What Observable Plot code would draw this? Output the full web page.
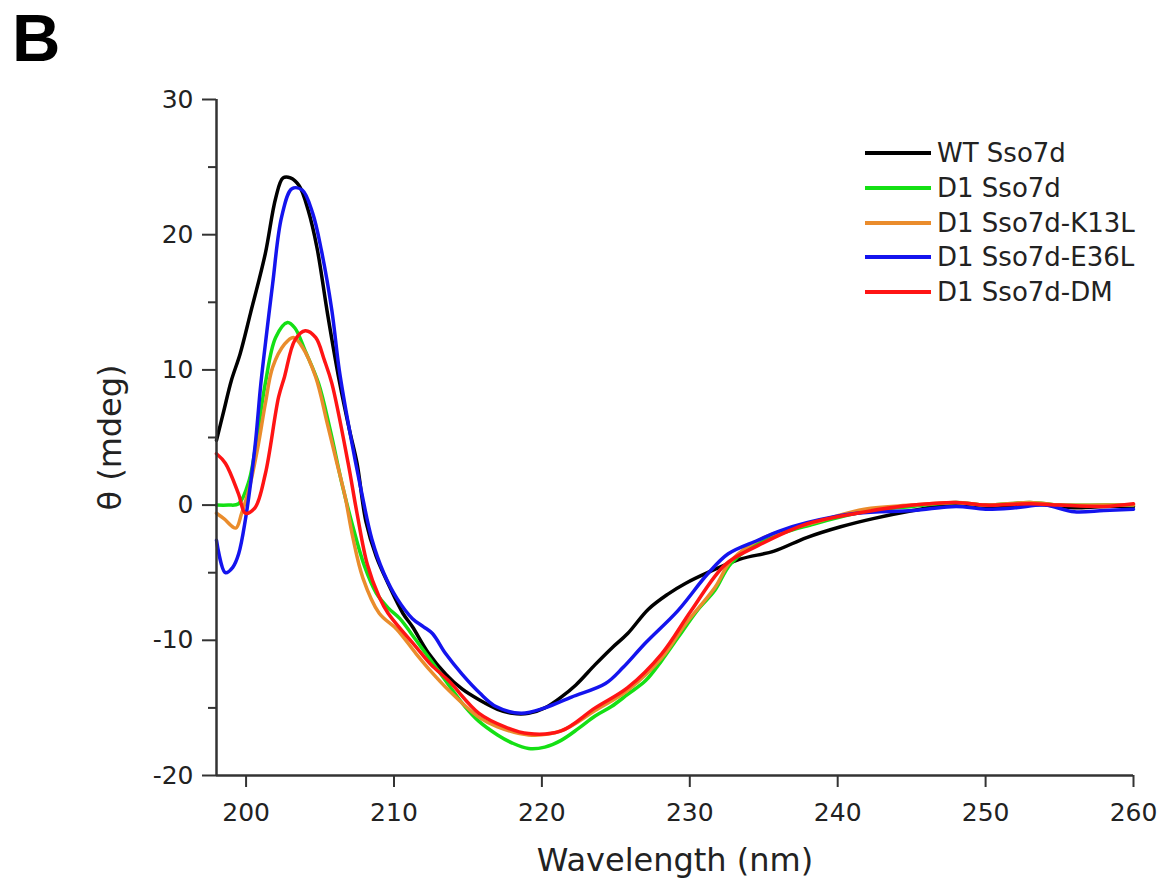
<!DOCTYPE html>
<html>
<head>
<meta charset="utf-8">
<script src="https://cdn.jsdelivr.net/npm/d3@7"></script>
<script src="https://cdn.jsdelivr.net/npm/@observablehq/plot@0.6"></script>
<style>
  html, body { margin: 0; padding: 0; background: #fff; }
  #wrap { position: relative; width: 1165px; height: 892px; font-family: "DejaVu Sans", sans-serif; }
  #panel { position: absolute; left: 12px; top: 4px; font-family: "Liberation Sans", Arial, sans-serif; font-weight: bold; font-size: 67px; color: #000; line-height: 1; }
  #legend { position: absolute; left: 865px; top: 136px; }
  .row { display: flex; align-items: center; height: 34.7px; }
  .sw { width: 66px; height: 4px; margin-right: 6px; }
  .lab { font-size: 26px; color: #222; white-space: nowrap; }
</style>
</head>
<body>
<div id="wrap">
  <div id="chart"></div>
  <div id="panel">B</div>
  <div id="legend"></div>
</div>
<script>
const seriesNames = ["WT Sso7d", "D1 Sso7d", "D1 Sso7d-K13L", "D1 Sso7d-E36L", "D1 Sso7d-DM"];
const seriesColors = ["#000000", "#14e014", "#ea8c2c", "#1414ee", "#ff1414"];

const xTicks = [200, 210, 220, 230, 240, 250, 260];
const yTicks = [-20, -10, 0, 10, 20, 30];
const yMinorTicks = [-15, -5, 5, 15, 25];

const wtSso7d = [
  [198,4.8],[198.5,7.0],[199,9.2],[199.6,11.2],[200.3,14.2],[201.3,18.6],[202.0,22.7],[202.5,24.2],
  [203.0,24.2],[203.6,23.6],[204.2,21.8],[204.8,19.0],[205.5,14.2],[206.3,9.2],[207.0,5.5],[207.5,3.1],
  [208.1,-1.2],[208.8,-3.8],[209.6,-5.8],[210.6,-8.0],[211.25,-9.0],[212.3,-10.9],[213.5,-12.5],
  [214.6,-13.6],[215.75,-14.4],[217,-15.1],[218,-15.4],[219.1,-15.4],[220.2,-15.0],[221.3,-14.2],
  [222.3,-13.3],[223.6,-11.8],[224.7,-10.6],[225.8,-9.5],[227.2,-7.7],[228.5,-6.6],[229.7,-5.8],
  [231.2,-5.0],[233.4,-4.0],[235.7,-3.4],[237.9,-2.4],[240.2,-1.6],[242.4,-1.0],[245.1,-0.4],
  [248,0.1],[250,-0.1],[251,-0.2],[253,0.1],[255,-0.1],[256,-0.2],[258,-0.1],[260,-0.1]
];
const d1Sso7d = [
  [198,0.0],[198.8,0.0],[199.5,0.1],[200.2,1.8],[200.8,5.5],[201.3,9.0],[202.0,12.4],[202.8,13.5],
  [203.3,13.1],[204.0,11.4],[204.9,9.0],[205.7,5.5],[206.5,1.5],[207.2,-1.5],[208.0,-4.5],[208.8,-6.5],
  [209.6,-7.6],[210.4,-8.4],[211.5,-10.0],[212.5,-11.5],[213.7,-13.3],[214.8,-14.9],[215.75,-16.0],[217,-17.0],
  [218,-17.6],[219.1,-18.0],[220.2,-17.9],[221.3,-17.4],[222.5,-16.5],[223.6,-15.6],[224.7,-14.9],
  [225.8,-14.0],[227.0,-13.0],[228.1,-11.5],[229.2,-9.8],[230.5,-7.8],[231.7,-6.3],[232.8,-4.3],
  [235,-2.6],[238.4,-1.4],[241.8,-0.5],[245,-0.1],[248,0.2],[250,0.0],[253,0.2],[255,0.0],[258,0.0],[260,0.0]
];
const d1K13L = [
  [198,-0.6],[198.5,-1.0],[199.3,-1.7],[199.7,-0.6],[200.2,1.2],[200.8,4.3],[201.3,7.5],[201.8,10.2],
  [202.6,11.9],[203.2,12.4],[203.8,11.7],[204.7,9.5],[205.5,6.0],[206.1,3.3],[206.7,0.6],[207.2,-2.3],
  [207.9,-5.4],[209.0,-8.0],[210.2,-9.2],[211.5,-11.0],[212.5,-12.3],[213.7,-13.7],[215.75,-15.7],
  [217,-16.4],[219.1,-17.0],[221.3,-16.7],[223.6,-15.2],[225.8,-13.7],[228.1,-11.3],[229.7,-8.8],
  [231.7,-6.1],[232.8,-4.1],[235,-2.4],[238.4,-1.3],[241.8,-0.3],[245,0.0],[248,0.2],[250,0.0],
  [253,0.2],[255,0.0],[258,0.0],[260,0.0]
];
const d1E36L = [
  [198,-2.6],[198.6,-5.0],[199.1,-4.6],[199.5,-3.6],[199.95,-1.1],[200.6,4.3],[201.0,9.0],[201.4,12.8],
  [201.8,16.4],[202.4,21.3],[203.1,23.4],[203.8,23.3],[204.5,21.6],[205.1,18.8],[205.8,14.4],[206.3,10.0],
  [207.0,5.5],[207.8,1.0],[208.5,-2.5],[209.3,-5.0],[210.2,-6.9],[211.25,-8.4],[212.0,-9.0],[212.6,-9.5],
  [213.5,-11.0],[214.6,-12.5],[215.8,-13.9],[216.9,-14.9],[218.6,-15.4],[220.2,-15.0],[222.0,-14.2],
  [224.3,-13.2],[225.5,-12.0],[227.0,-10.2],[229.2,-7.8],[231.2,-5.1],[232.6,-3.6],[234.6,-2.6],
  [236.1,-1.9],[237.9,-1.3],[241.3,-0.6],[245.1,-0.4],[248,-0.1],[250,-0.3],[252,-0.2],[254,0.0],
  [256,-0.5],[258,-0.4],[260,-0.3]
];
const d1DM = [
  [198,3.8],[198.6,3.1],[199.5,0.8],[199.95,-0.6],[200.6,-0.2],[201.3,2.3],[202.2,8.0],[202.6,9.5],
  [203.3,12.2],[204.0,12.9],[204.7,12.4],[205.3,10.7],[205.8,9.0],[206.9,3.1],[207.5,-0.6],[208.2,-4.4],
  [209.0,-6.8],[209.6,-8.0],[211.5,-10.5],[212.5,-11.8],[213.7,-13.0],[215.75,-15.4],[217.5,-16.4],
  [219.1,-16.9],[221.3,-16.7],[223.6,-15.0],[225.8,-13.5],[228.1,-11.0],[230.1,-7.8],[232.4,-4.4],
  [234.6,-3.0],[237.9,-1.4],[241.3,-0.6],[245.1,0.0],[248,0.2],[250,0.0],[253,0.1],[255,0.0],
  [258,-0.1],[260,0.1]
];

const seriesData = [wtSso7d, d1Sso7d, d1K13L, d1E36L, d1DM];

const rows = [];
seriesData.forEach((arr, i) => arr.forEach(([nm, v]) => rows.push({series: seriesNames[i], nm, v})));

const axisColor = "#333";
const lineMarks = seriesNames.map((name, i) =>
  Plot.line(rows.filter(r => r.series === name), {
    x: "nm", y: "v", stroke: seriesColors[i], strokeWidth: 3.5, curve: "catmull-rom"
  })
);

const fmt = d => String(d);

const chart = Plot.plot({
  width: 1165,
  height: 892,
  marginLeft: 216,
  marginRight: 32,
  marginTop: 99,
  marginBottom: 117,
  style: { fontFamily: "DejaVu Sans, sans-serif", background: "#fff", color: "#222", overflow: "visible" },
  x: { domain: [198, 260] },
  y: { domain: [-20, 30] },
  marks: [
    ...lineMarks,
    Plot.ruleX([198], { stroke: axisColor, strokeWidth: 2.5 }),
    Plot.ruleY([-20], { stroke: axisColor, strokeWidth: 2.5 }),
    Plot.axisX({ ticks: xTicks, tickFormat: fmt, tickSize: 12, tickPadding: 16, fontSize: 25, stroke: axisColor, strokeWidth: 2, fill: "#222",
      label: "Wavelength (nm)", labelAnchor: "center", labelArrow: "none", labelOffset: 95 }),
    Plot.axisY({ ticks: yTicks, tickFormat: fmt, tickSize: 14, tickPadding: 9, fontSize: 25, stroke: axisColor, strokeWidth: 2, fill: "#222",
      label: "θ (mdeg)", labelAnchor: "center", labelArrow: "none", labelOffset: 118 }),
    Plot.axisY({ ticks: yMinorTicks, tickSize: 8, text: null, stroke: axisColor, strokeWidth: 2, label: null })
  ]
});
document.getElementById("chart").appendChild(chart);

chart.querySelectorAll("g[aria-label='x-axis label'] text, g[aria-label='y-axis label'] text").forEach(t => {
  t.setAttribute("font-size", "32");
  t.style.fontSize = "32px";
});

const legend = document.getElementById("legend");
seriesNames.forEach((name, i) => {
  const row = document.createElement("div");
  row.className = "row";
  const sw = document.createElement("div");
  sw.className = "sw";
  sw.style.background = seriesColors[i];
  const lab = document.createElement("div");
  lab.className = "lab";
  lab.textContent = name;
  row.appendChild(sw);
  row.appendChild(lab);
  legend.appendChild(row);
});
</script>
</body>
</html>
